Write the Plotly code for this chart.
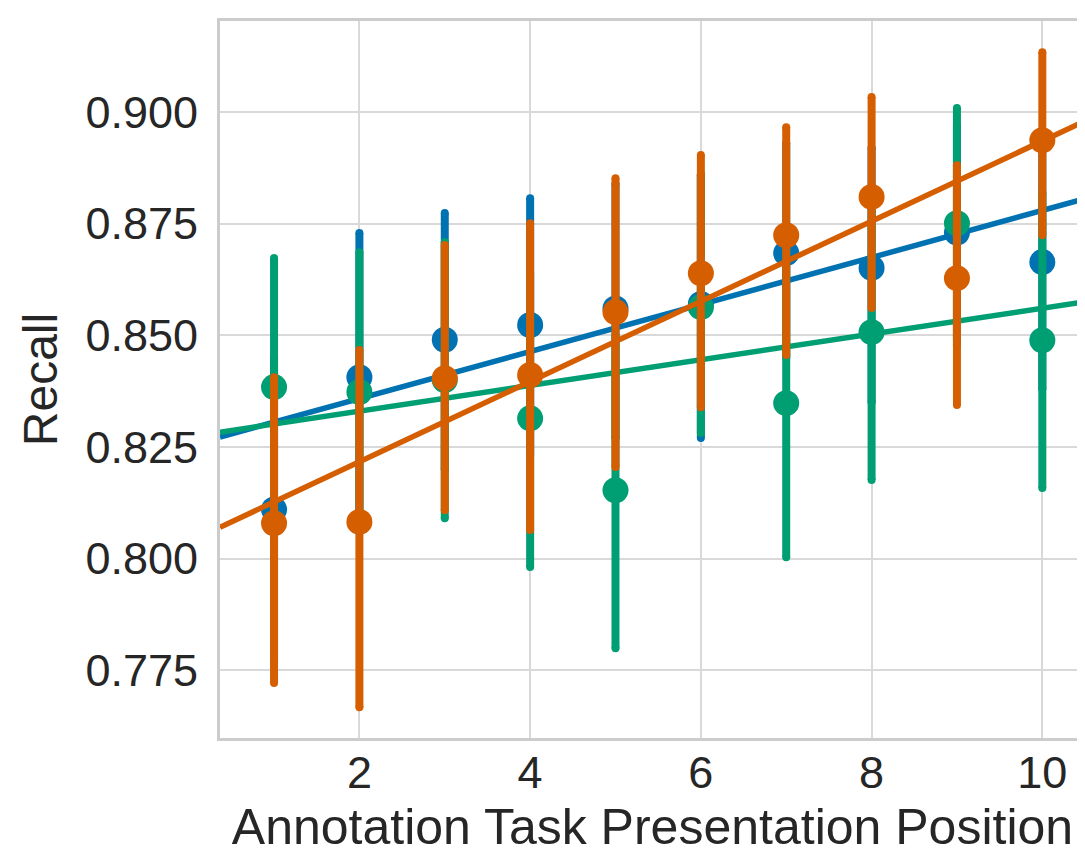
import plotly.graph_objects as go

# ---- data ----
positions = [1, 2, 3, 4, 5, 6, 7, 8, 9, 10]

blue_mean  = [0.811, 0.8406, 0.849, 0.8523, 0.856, 0.857, 0.8684, 0.8651, 0.873, 0.8664]
blue_low   = [0.777, 0.808, 0.820, 0.823, 0.827, 0.827, 0.845, 0.835, 0.848, 0.838]
blue_high  = [0.845, 0.8729, 0.8774, 0.8807, 0.884, 0.886, 0.893, 0.892, 0.897, 0.895]

green_mean = [0.8384, 0.8373, 0.840, 0.8314, 0.8153, 0.8563, 0.8348, 0.8507, 0.8751, 0.8489]
green_low  = [0.809, 0.806, 0.809, 0.7981, 0.7799, 0.8281, 0.8003, 0.8176, 0.849, 0.8158]
green_high = [0.8673, 0.8686, 0.8709, 0.864, 0.850, 0.886, 0.869, 0.883, 0.9009, 0.882]

orange_mean = [0.8079, 0.8082, 0.8404, 0.8411, 0.8552, 0.8639, 0.8724, 0.8810, 0.8628, 0.8937]
orange_low  = [0.7721, 0.7667, 0.8108, 0.8064, 0.8205, 0.8339, 0.8456, 0.8561, 0.8344, 0.8724]
orange_high = [0.8406, 0.8467, 0.8702, 0.8751, 0.8852, 0.8904, 0.8966, 0.9034, 0.8881, 0.9134]

# regression line end points (x at the axis limits)
fit_x = [0.367, 10.50]
blue_fit = [0.8272, 0.8806]
green_fit = [0.8283, 0.8575]
orange_fit = [0.8070, 0.8980]

x_ticks = [2, 4, 6, 8, 10]
y_ticks = [0.775, 0.800, 0.825, 0.850, 0.875, 0.900]

x_title = "Annotation Task Presentation Position"
y_title = "Recall"

BLUE, GREEN, ORANGE = "#0072B2", "#009E73", "#D55E00"

fig = go.Figure()

def add_series(mean, low, high, fit, color):
    plus = [h - m for h, m in zip(high, mean)]
    minus = [m - l for m, l in zip(mean, low)]
    # rounded ends of the confidence bars
    fig.add_trace(go.Scatter(
        x=positions + positions, y=low + high, mode="markers",
        marker=dict(color=color, size=8, line=dict(width=0)),
        showlegend=False, hoverinfo="skip",
    ))
    fig.add_trace(go.Scatter(
        x=positions, y=mean, mode="markers",
        marker=dict(color=color, size=26, line=dict(width=0)),
        error_y=dict(type="data", array=plus, arrayminus=minus,
                     color=color, thickness=8, width=0, symmetric=False),
        showlegend=False,
    ))
    fig.add_trace(go.Scatter(
        x=fit_x, y=fit, mode="lines",
        line=dict(color=color, width=5.5),
        showlegend=False,
    ))

add_series(blue_mean, blue_low, blue_high, blue_fit, BLUE)
add_series(green_mean, green_low, green_high, green_fit, GREEN)
add_series(orange_mean, orange_low, orange_high, orange_fit, ORANGE)

font_family = "Liberation Sans, Arial, sans-serif"
text_color = "#262626"

# the page body has an 8px default margin, so the figure is drawn 8px in
fig.update_layout(
    width=1077, height=847,
    margin=dict(l=212, r=0, t=13, b=117),
    paper_bgcolor="white", plot_bgcolor="white",
    font=dict(family=font_family, color=text_color, size=44),
    xaxis=dict(
        range=[0.367, 10.50], tickvals=x_ticks, ticktext=[str(v) for v in x_ticks],
        showgrid=True, gridcolor="#d9d9d9", gridwidth=2,
        showline=True, linecolor="#cccccc", linewidth=3, mirror=True,
        zeroline=False, ticks="", ticklabelstandoff=-7, automargin=False,
        tickfont=dict(size=45, color=text_color),
        title=dict(text=x_title, font=dict(size=50, color=text_color), standoff=12),
    ),
    yaxis=dict(
        range=[0.7598, 0.9204], tickvals=y_ticks, ticktext=[f"{v:.3f}" for v in y_ticks],
        showgrid=True, gridcolor="#d9d9d9", gridwidth=2,
        showline=True, linecolor="#cccccc", linewidth=3, mirror=False,
        zeroline=False, ticks="", ticklabelstandoff=10, automargin=False,
        tickfont=dict(size=45, color=text_color),
        title=dict(text=y_title, font=dict(size=48, color=text_color), standoff=13),
    ),
)

fig.write_html("out.html")
